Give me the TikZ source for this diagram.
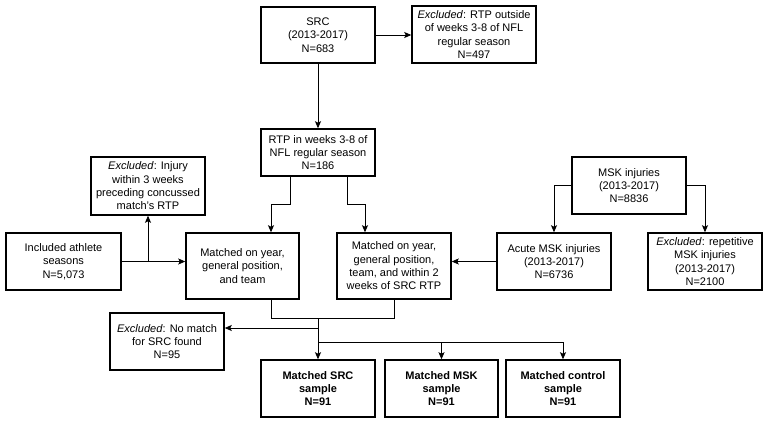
\documentclass[tikz,border=0pt]{standalone}
\usepackage{fontspec}
\setmainfont{Liberation Sans}
\usetikzlibrary{arrows.meta}
\begin{document}
\begin{tikzpicture}[x=1pt,y=-1pt,
		caja/.style={draw, line width=1.5pt, align=center, inner sep=0pt, minimum width=114pt, minimum height=57pt, font=\fontsize{11}{13.3}\selectfont},
		final/.style={caja, font=\fontsize{11}{13.3}\selectfont\bfseries},
		linea/.style={line width=0.8pt},
		flecha/.style={linea, -{Stealth[length=7pt,width=6pt,inset=1.5pt]}}]
		\useasboundingbox (0,0) rectangle (764,424);
		\node[caja, minimum height=56pt] (src) at (318,35) {SRC\\(2013-2017)\\N=683};
		\node[caja, minimum width=124pt] (exrtp) at (474,34.5) {\textit{Excluded}: RTP outside\\of weeks 3-8 of NFL\\regular season\\N=497};
		\node[caja, minimum height=47pt] (rtp) at (318,152.5) {RTP in weeks 3-8 of\\NFL regular season\\N=186};
		\node[caja, minimum height=58pt] (exinj) at (148,186) {\textit{Excluded}: Injury\\within 3 weeks\\preceding concussed\\match's RTP};
		\node[caja] (msk) at (629,185.5) {MSK injuries\\(2013-2017)\\N=8836};
		\node[caja, minimum width=115pt] (incl) at (63.5,261.5) {Included athlete\\seasons\\N=5,073};
		\node[caja, minimum width=113pt, minimum height=66pt] (match1) at (242.5,266) {Matched on year,\\general position,\\and team};
		\node[caja, minimum height=66pt] (match2) at (394,266) {Matched on year,\\general position,\\team, and within 2\\weeks of SRC RTP};
		\node[caja] (acute) at (554,261.5) {Acute MSK injuries\\(2013-2017)\\N=6736};
		\node[caja] (exrep) at (705,261.5) {\textit{Excluded}: repetitive\\MSK injuries\\(2013-2017)\\N=2100};
		\node[caja] (exnomatch) at (167,341.5) {\textit{Excluded}: No match\\for SRC found\\N=95};
		\node[final] (srcs) at (318,388.5) {Matched SRC\\sample\\N=91};
		\node[final, minimum width=113pt] (msks) at (441.5,388.5) {Matched MSK\\sample\\N=91};
		\node[final] (ctrls) at (563,388.5) {Matched control\\sample\\N=91};
		\coordinate (junc) at (318,318);
		\coordinate (jx) at (318,328);
		\coordinate (jm) at (318,342);
		\draw[flecha] (src) -- (rtp);
		\draw[flecha] (src.east) -- (src.east -| exrtp.west);
		\draw[flecha] ([xshift=-28pt]rtp.south) -- ++(0,28) -| ([xshift=28.5pt]match1.north);
		\draw[flecha] ([xshift=29pt]rtp.south) -- ++(0,28) -| ([xshift=-29pt]match2.north);
		\draw[flecha] (incl.east) -- (incl.east -| match1.west);
		\draw[flecha] (incl.east -| exinj.south) -- (exinj.south);
		\draw[flecha] (msk.west) -| (acute.north);
		\draw[flecha] (msk.east) -| (exrep.north);
		\draw[flecha] (acute.west) -- (acute.west -| match2.east);
		\draw[linea] ([xshift=28.5pt]match1.south) -- ++(0,19) -| (match2.south);
		\draw[flecha] (junc) -- (srcs);
		\draw[flecha] (jx) -- (jx -| exnomatch.east);
		\draw[flecha] (jm) -| (ctrls.north);
		\draw[flecha] (jm -| msks.north) -- (msks.north);
	\end{tikzpicture}
\end{document}
